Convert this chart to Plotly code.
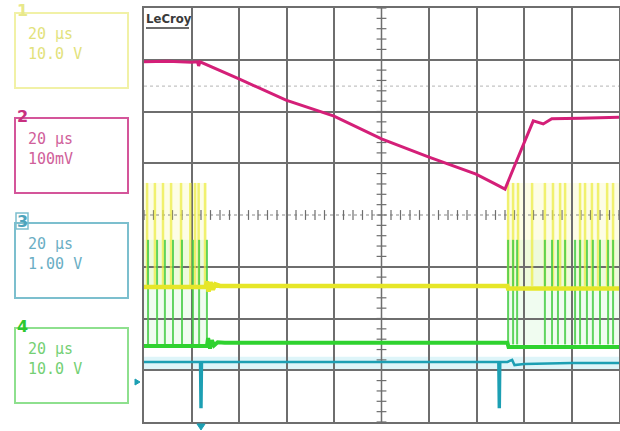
import plotly.graph_objects as go

# ---- data (time in us, 20 us/div; vertical in screen divisions) ----
ch2_t = [-100, -90, -80, -77.5, -77, -76.4, -60, -40.2, -20, 0, 20, 39.8, 47.8, 52, 56.2, 60.4, 63.9, 68.1, 71.7, 83.6, 100]
ch2_y = [2.96, 2.97, 2.95, 2.96, 2.88, 2.96, 2.63, 2.22, 1.91, 1.47, 1.12, 0.79, 0.60, 0.50, 0.97, 1.42, 1.82, 1.76, 1.86, 1.87, 1.89]

ch1_t = [-100, -74, -73.5, -72.8, -72, -71, -70, -68, 53, 53.3, 100]
ch1_y = [-1.39, -1.39, -1.28, -1.48, -1.30, -1.44, -1.34, -1.37, -1.37, -1.42, -1.42]
ch1_pulse_t = [-98.7, -95.4, -92.0, -88.6, -84.4, -80.5, -78.5, -77.0, -74.3,
               53.3, 55.4, 57.5, 63.4, 68.8, 72.2, 75.2, 77.3, 83.6, 85.7, 88.6, 91.2, 95.0, 97.5]
ch1_top = 0.62

ch4_t = [-100, -73.5, -73, -72.2, -71.4, -70.5, -69, -66, 53, 53.5, 100]
ch4_y = [-2.53, -2.53, -2.38, -2.58, -2.42, -2.52, -2.46, -2.47, -2.47, -2.55, -2.55]
ch4_pulse_t = [-98.3, -94.5, -91.2, -87.8, -84.0, -79.4, -76.8, -73.5,
               53.3, 55.4, 57.1, 68.8, 71.8, 74.3, 77.3, 81.5, 83.6, 86.5, 89.0, 92.0, 95.4, 97.5]
ch4_top = -0.48

ch3_t = [-100, -76.4, -76.2, -75.8, -75.6, 49.2, 49.4, 49.8, 50.0, 53, 55, 56, 60, 70, 80, 100]
ch3_y = [-2.84, -2.84, -3.71, -3.71, -2.84, -2.84, -3.71, -3.71, -2.84, -2.84, -2.80, -2.90, -2.88, -2.87, -2.86, -2.86]

ref_y = 2.49  # dotted reference line

# channel labels
ch_nums = ["1", "2", "3", "4"]
ch_time = ["20 μs", "20 μs", "20 μs", "20 μs"]
ch_volt = ["10.0 V", "100mV", "1.00 V", "10.0 V"]

# ---- geometry ----
W, H = 620, 431
PX0, PX1, PY0, PY1 = 144, 619, 8, 422
GRID = "#6e6e6e"


def px(x):
    return x / W


def py(y):
    return (H - y) / H


def pulses(ts, base, top):
    xs, ys = [], []
    for t in ts:
        xs += [t, t, None]
        ys += [base, top, None]
    return xs, ys


fig = go.Figure()

shapes = []
shapes.append(dict(type="rect", xref="x", yref="y", x0=-100, x1=100, y0=-2.98, y1=-2.74,
                   fillcolor="rgba(200,238,245,0.6)", line_width=0, layer="below"))
for xa, xb in [(-100, -73.5), (53, 100)]:
    shapes.append(dict(type="rect", xref="x", yref="y", x0=xa, x1=xb, y0=-1.37, y1=ch1_top,
                       fillcolor="rgba(250,250,170,0.3)", line_width=0, layer="below"))
    shapes.append(dict(type="rect", xref="x", yref="y", x0=xa, x1=xb, y0=-2.5, y1=ch4_top,
                       fillcolor="rgba(180,238,180,0.2)", line_width=0, layer="below"))

# center crosshair
shapes.append(dict(type="line", xref="x", yref="y", x0=0, x1=0, y0=-4, y1=4,
                   line=dict(color=GRID, width=1.5), layer="below"))
shapes.append(dict(type="line", xref="x", yref="y", x0=-100, x1=100, y0=0, y1=0,
                   line=dict(color="#8a8a8a", width=1.2, dash="dot"), layer="below"))
shapes.append(dict(type="line", xref="x", yref="y", x0=-100, x1=100, y0=ref_y, y1=ref_y,
                   line=dict(color="#c4c4c4", width=1.2, dash="dot"), layer="below"))

tick_v = [i * 0.2 for i in range(-20, 21)]
tick_h = [i * 4 for i in range(-25, 26)]
fig.add_trace(go.Scatter(x=[0] * len(tick_v), y=tick_v, mode="markers", hoverinfo="skip",
                         marker=dict(symbol="line-ew", size=7, line=dict(width=1.2, color=GRID))))
fig.add_trace(go.Scatter(x=tick_h, y=[0] * len(tick_h), mode="markers", hoverinfo="skip",
                         marker=dict(symbol="line-ns", size=7, line=dict(width=1.2, color=GRID))))

xs, ys = pulses(ch1_pulse_t, -1.37, ch1_top)
fig.add_trace(go.Scatter(x=xs, y=ys, mode="lines", line=dict(color="rgba(236,236,70,0.75)", width=2.5)))
xs, ys = pulses(ch4_pulse_t, -2.5, ch4_top)
fig.add_trace(go.Scatter(x=xs, y=ys, mode="lines", line=dict(color="rgba(70,205,70,0.85)", width=2)))
fig.add_trace(go.Scatter(x=ch1_t, y=ch1_y, mode="lines", line=dict(color="#e6e628", width=4.5)))
fig.add_trace(go.Scatter(x=ch4_t, y=ch4_y, mode="lines", line=dict(color="#2fd22f", width=4)))
fig.add_trace(go.Scatter(x=ch3_t, y=ch3_y, mode="lines", line=dict(color="#1c9fb3", width=2.5)))
fig.add_trace(go.Scatter(x=ch2_t, y=ch2_y, mode="lines", line=dict(color="#d41f78", width=3)))

# ---- left side channel boxes ----
annotations = []
box_tops = [13, 118, 223, 328]
box_border = ["#f1f1a6", "#d4559a", "#7cbfce", "#8ee08e"]
box_text = ["#e2e27c", "#d0609a", "#6aaec4", "#74d074"]
box_num = ["#e8e88a", "#c8307f", "#4ea4bc", "#2ec82e"]
for i in range(4):
    top = box_tops[i]
    shapes.append(dict(type="rect", xref="paper", yref="paper", x0=px(15), x1=px(128),
                       y0=py(top + 75), y1=py(top), line=dict(color=box_border[i], width=2)))
    annotations.append(dict(xref="paper", yref="paper", x=px(26), y=py(top + 31),
                            text=ch_time[i] + "<br>" + ch_volt[i],
                            showarrow=False, xanchor="left", yanchor="middle", align="left",
                            font=dict(family="DejaVu Sans Mono", size=15, color=box_text[i])))
    annotations.append(dict(xref="paper", yref="paper", x=px(15), y=py(top - 2),
                            text="<b>" + ch_nums[i] + "</b>",
                            showarrow=False, xanchor="left", yanchor="middle",
                            font=dict(family="DejaVu Sans", size=16, color=box_num[i])))
    if ch_nums[i] == "3":
        shapes.append(dict(type="rect", xref="paper", yref="paper", x0=px(16), x1=px(28),
                           y0=py(top + 6), y1=py(top - 10), line=dict(color=box_border[i], width=1.5)))

# LeCroy label
annotations.append(dict(xref="paper", yref="paper", x=px(144), y=py(19), text="<b>LeCroy</b>",
                        showarrow=False, xanchor="left", yanchor="middle",
                        font=dict(family="DejaVu Sans Condensed", size=13, color="#3a3a3a")))
shapes.append(dict(type="line", xref="paper", yref="paper", x0=px(146), x1=px(189),
                   y0=py(28), y1=py(28), line=dict(color="#3a3a3a", width=1.5)))

# channel 3 ground marker (left) and trigger marker (bottom) as small triangles
shapes.append(dict(type="path", xref="paper", yref="paper",
                   path=f"M {px(135)} {py(379)} L {px(140)} {py(382)} L {px(135)} {py(385)} Z",
                   fillcolor="#1c9fb3", line=dict(color="#1c9fb3", width=1)))
shapes.append(dict(type="path", xref="paper", yref="paper",
                   path=f"M {px(197)} {py(424)} L {px(205)} {py(424)} L {px(201)} {py(430)} Z",
                   fillcolor="#1c9fb3", line=dict(color="#1c9fb3", width=1)))

fig.update_layout(
    width=W, height=H, margin=dict(l=0, r=0, t=0, b=0),
    paper_bgcolor="white", plot_bgcolor="white", showlegend=False,
    shapes=shapes, annotations=annotations,
    xaxis=dict(domain=[PX0 / W, PX1 / W], range=[-100, 100],
               tickvals=[-80, -60, -40, -20, 20, 40, 60, 80], showticklabels=False,
               showgrid=True, gridcolor=GRID, gridwidth=1.5, zeroline=False,
               showline=True, mirror=True, linecolor=GRID, linewidth=1.5, ticks=""),
    yaxis=dict(domain=[(H - PY1) / H, (H - PY0) / H], range=[-4, 4],
               tickvals=[-3, -2, -1, 1, 2, 3], showticklabels=False,
               showgrid=True, gridcolor=GRID, gridwidth=1.5, zeroline=False,
               showline=True, mirror=True, linecolor=GRID, linewidth=1.5, ticks=""),
)

fig.write_html("out.html", config={"displayModeBar": False},
               post_script="document.body.style.margin='0';document.body.style.overflow='hidden';")
